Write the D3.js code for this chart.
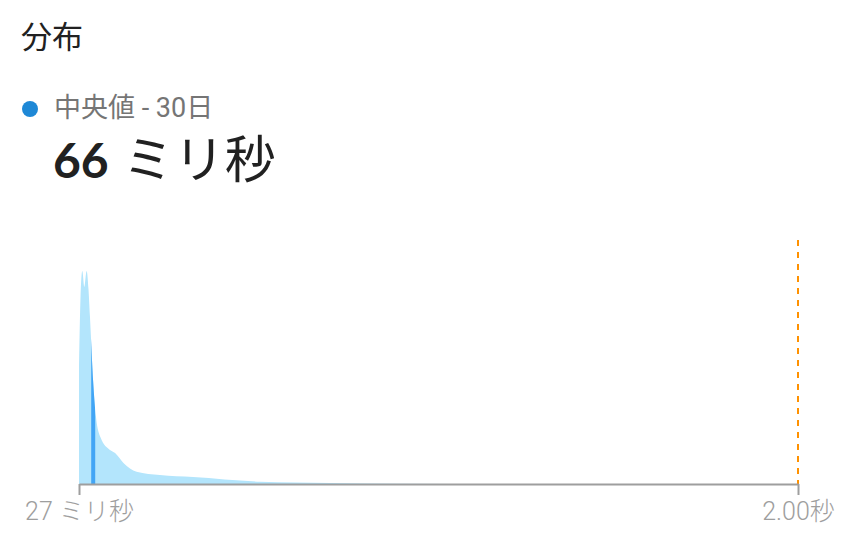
<!DOCTYPE html>
<html lang="ja">
<head>
  <meta charset="UTF-8">
  <title>分布</title>
  <script src="https://d3js.org/d3.v7.min.js"></script>
  <style>
    body {
      margin: 0;
      background: #fff;
      font-family: Roboto, "Noto Sans CJK JP", sans-serif;
    }
    .title { font-size: 31px; fill: #212121; }
    .legend-label { font-size: 27px; fill: #757575; }
    .value-num { font-family: Lato, Roboto, sans-serif; font-weight: 700; font-size: 48px; fill: #212121; }
    .value-unit { font-family: Roboto, "Noto Sans CJK JP", sans-serif; font-size: 51px; fill: #212121; }
    .axis text { font-size: 25px; fill: #9e9e9e; font-weight: 300; }
    .axis line, .axis path { stroke: #9e9e9e; stroke-width: 2; }
  </style>
</head>
<body>
  <svg id="chart" width="860" height="554"></svg>
  <script>
    // density estimate (latency in ms, relative height)
    const latencyMs = [27, 31, 36, 41.5, 48, 53, 57, 66, 73.5, 86.5, 112, 126, 149, 185, 249, 340, 524, 716, 908, 1200, 2000];
    const density   = [0.552, 0.868, 1.0, 0.925, 1.0, 0.915, 0.788, 0.476, 0.316, 0.217, 0.160, 0.146, 0.099, 0.058, 0.042, 0.033, 0.011, 0.005, 0.001, 0, 0];

    const axisValues = [27, 2000];
    const axisLabels = ["27 ミリ秒", "2.00秒"];

    const medianMs = 66;
    const thresholdMs = 2000;

    const svg = d3.select("#chart");

    const x = d3.scaleLinear().domain([27, 2000]).range([79, 798]);
    const y = d3.scaleLinear().domain([0, 1]).range([484, 271]);

    const points = latencyMs.map((ms, i) => ({ ms, d: density[i] }));

    // header texts
    svg.append("text").attr("class", "title").attr("x", 21).attr("y", 48).text("分布");

    svg.append("circle").attr("cx", 30).attr("cy", 109).attr("r", 8).attr("fill", "#1e88d6");
    svg.append("text").attr("class", "legend-label").attr("x", 54).attr("y", 117).text("中央値 - 30日");

    const big = svg.append("text").attr("x", 53).attr("y", 178);
    big.append("tspan").attr("class", "value-num").text("66");
    big.append("tspan").attr("class", "value-unit").attr("dx", 14).text("ミリ秒");

    // distribution area
    const area = d3.area()
      .x(p => x(p.ms))
      .y0(y(0))
      .y1(p => y(p.d))
      .curve(d3.curveMonotoneX);

    svg.append("clipPath").attr("id", "areaClip")
      .append("path").attr("d", area(points));

    svg.append("path")
      .attr("d", area(points))
      .attr("fill", "#b3e5fc");

    // median marker, clipped to the area
    svg.append("rect")
      .attr("clip-path", "url(#areaClip)")
      .attr("x", x(medianMs) - 2)
      .attr("y", y(1.1))
      .attr("width", 4)
      .attr("height", y(0) - y(1.1))
      .attr("fill", "#42a5f5");

    // threshold line
    svg.append("line")
      .attr("x1", x(thresholdMs)).attr("x2", x(thresholdMs))
      .attr("y1", 240).attr("y2", y(0))
      .attr("stroke", "#ff9100")
      .attr("stroke-width", 2)
      .attr("stroke-dasharray", "6 6");

    // axis
    const axis = d3.axisBottom(x)
      .tickValues(axisValues)
      .tickFormat((v, i) => axisLabels[i])
      .tickSize(11)
      .tickSizeOuter(0)
      .tickPadding(7);

    const g = svg.append("g")
      .attr("class", "axis")
      .attr("transform", `translate(0,${y(0)})`)
      .call(axis);
    g.attr("font-family", null).attr("font-size", null);
  </script>
</body>
</html>
